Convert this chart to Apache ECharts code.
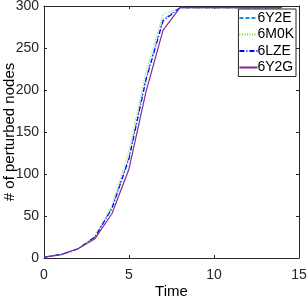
<!DOCTYPE html>
<html><head><meta charset="utf-8">
<script src="https://cdn.jsdelivr.net/npm/echarts@6/dist/echarts.min.js"></script>
<style>html,body{margin:0;padding:0;background:#fff}#c{width:307px;height:298px}</style>
</head><body><div id="c"></div>
<script>
const time = [0,1,2,3,4,5,6,7,8,9,10,11,12,13,14];
const s6Y2E = [1,4,11,25,60,120,214,284,298,298,298,298,298,298,298];
const s6M0K = [1,4,11,26,63,128,222,290,298,298,298,298,298,298,298];
const s6LZE = [1,4,11,25,59,118,212,282,298,298,298,298,298,298,298];
const s6Y2G = [1,4,11,23,53,106,198,271,298,298,298,298,298,298,298];
const xTicks = [0,5,10,15];
const yTicks = [0,50,100,150,200,250,300];

const font = 'Liberation Sans, Arial, sans-serif';
const axisCol = '#262626';
const chart = echarts.init(document.getElementById('c'));
function mk(name, data, color, type, width) {
  return {
    name, type: 'line', symbol: 'none', smooth: false,
    data: time.map((t, i) => [t, data[i]]),
    lineStyle: { color, type, width: width },
    itemStyle: { color },
    z: 3
  };
}
const axBase = {
  type: 'value',
  axisLine: { show: true, onZero: false, lineStyle: { color: axisCol, width: 1 } },
  axisTick: { show: true, inside: true, length: 3, lineStyle: { color: axisCol } },
  splitLine: { show: false },
};
chart.setOption({
  animation: false,
  backgroundColor: '#fff',
  grid: { left: 44, right: 8, top: 6, bottom: 40, containLabel: false, outerBoundsMode: 'none' },
  legend: {
    right: 11, top: 9, orient: 'vertical',
    itemWidth: 18, itemHeight: 14, itemGap: 2.5,
    padding: [2, 2, 2, 0],
    itemStyle: { opacity: 0 },
    borderColor: axisCol, borderWidth: 1, backgroundColor: '#fff',
    textStyle: { fontFamily: font, fontSize: 14, color: '#000', padding: [0,0,0,-5] },
    data: ['6Y2E', '6M0K', '6LZE', '6Y2G']
  },
  xAxis: [
    Object.assign({}, axBase, {
      min: 0, max: 15, interval: 5, position: 'bottom',
      name: 'Time', nameLocation: 'middle', nameGap: 26, nameMoveOverlap: false,
      nameTextStyle: { fontFamily: font, fontSize: 15, color: '#000' },
      axisLabel: { fontFamily: font, fontSize: 14, color: '#262626', margin: 10,
        customValues: xTicks },
    }),
    Object.assign({}, axBase, {
      min: 0, max: 15, interval: 5, position: 'top',
      axisLabel: { show: false }
    })
  ],
  yAxis: [
    Object.assign({}, axBase, {
      min: 0, max: 300, interval: 50, position: 'left',
      name: '# of perturbed nodes', nameLocation: 'middle', nameGap: 27, nameMoveOverlap: false,
      nameTextStyle: { fontFamily: font, fontSize: 15, color: '#000' },
      axisLabel: { fontFamily: font, fontSize: 14, color: '#262626', margin: 5,
        customValues: yTicks },
    }),
    Object.assign({}, axBase, {
      min: 0, max: 300, interval: 50, position: 'right',
      axisLabel: { show: false }
    })
  ],
  series: [
    mk('6Y2E', s6Y2E, '#1f8fdc', [4, 2], 1),
    mk('6M0K', s6M0K, '#8cc63f', [1, 1.5], 1),
    mk('6LZE', s6LZE, '#0000ff', [5, 2, 1, 2], 1.2),
    mk('6Y2G', s6Y2G, '#7e2f8e', 'solid', 1.2)
  ]
});
</script></body></html>
